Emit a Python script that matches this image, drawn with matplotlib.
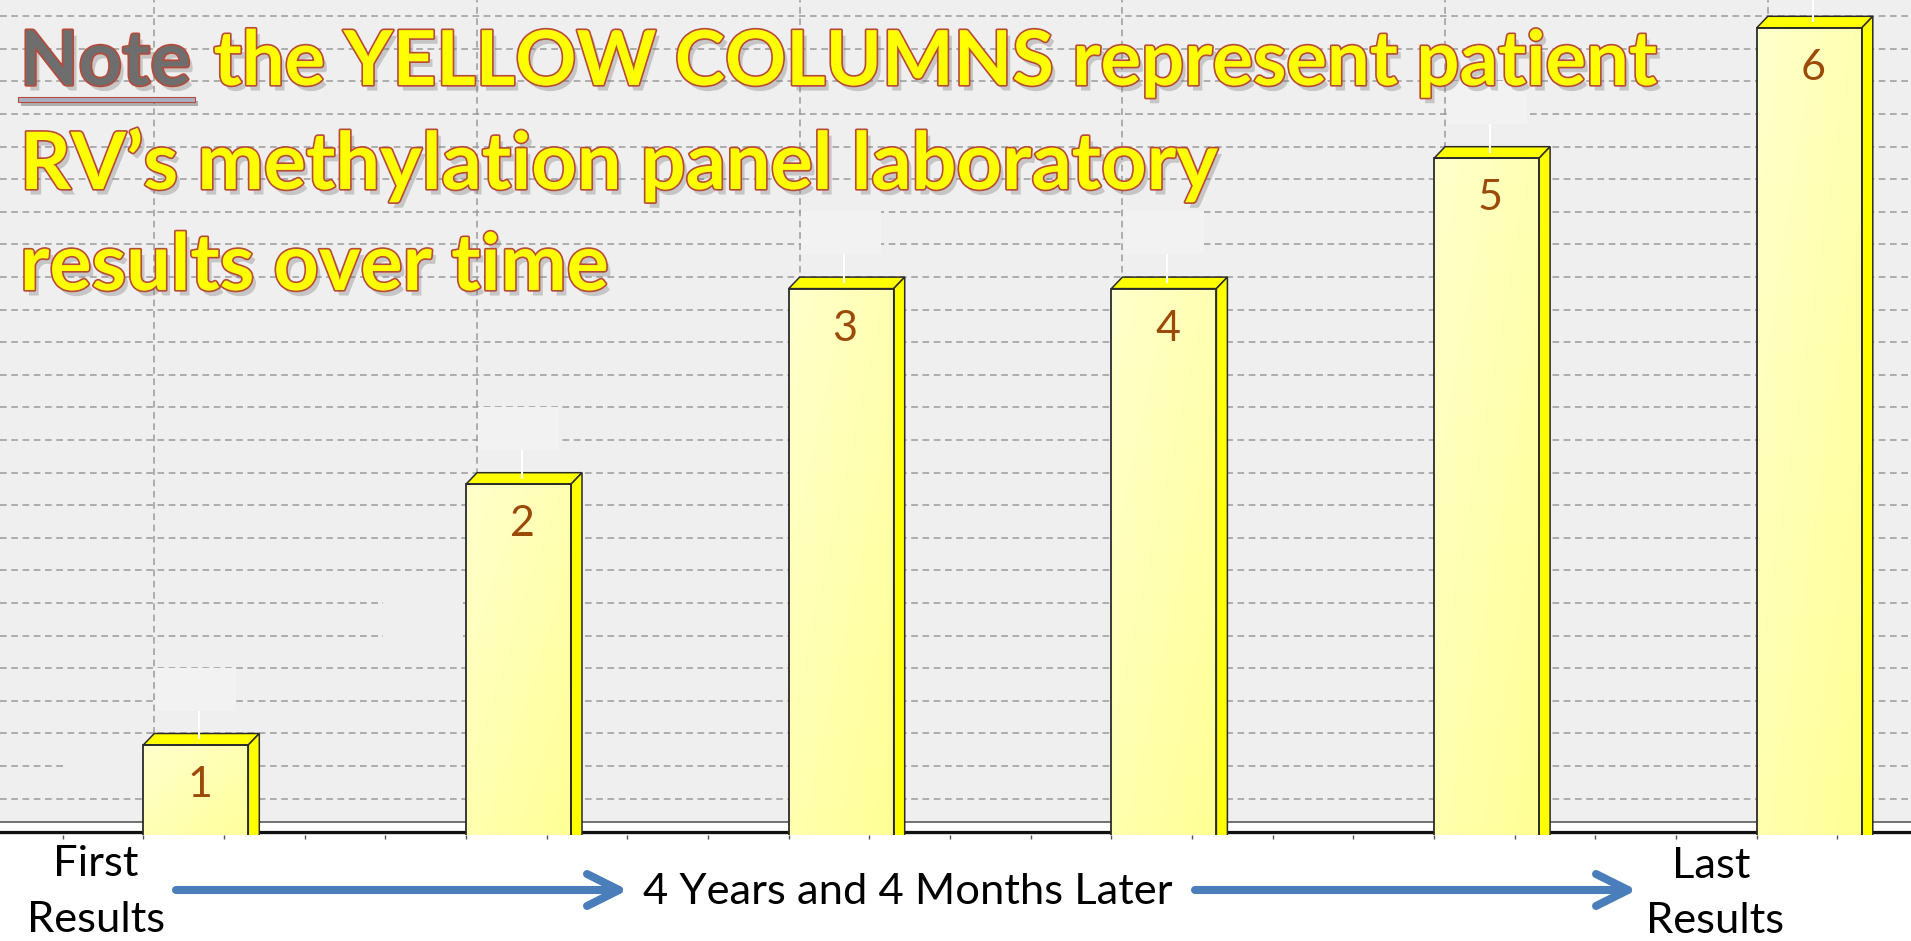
import numpy as np
import matplotlib
matplotlib.use("Agg")
import matplotlib.pyplot as plt
from matplotlib.patches import Rectangle, Polygon, FancyArrowPatch, ArrowStyle
import matplotlib.patheffects as pe

plt.rcParams["lines.scale_dashes"] = False

# ---------------- data ----------------
categories = ["1", "2", "3", "4", "5", "6"]
values = [3, 11, 17, 17, 21, 25]          # height in grid-line units
note_word = "Note"
title_line1_rest = "the YELLOW COLUMNS represent patient"
title_line2 = "RV\u2019s methylation panel laboratory"
title_line3 = "results over time"
start_label = ["First", "Results"]
end_label = ["Last", "Results"]
middle_label = "4 Years and 4 Months Later"

# ---------------- layout ----------------
W, H = 1911, 941
fig = plt.figure(figsize=(W / 100, H / 100), dpi=100)
fig.patch.set_facecolor("white")

ax_bottom_px = 835
ax = fig.add_axes([0, 1 - ax_bottom_px / H, 1, ax_bottom_px / H])
ax.set_facecolor("#efefef")
px_y = 32.6       # pixels per value unit
px_x = 322.7      # pixels per category
x0_px = 195.8
y0_px = 831.3
xlim = (-x0_px / px_x, (W - x0_px) / px_x)
ylim = (-(ax_bottom_px - y0_px) / px_y, y0_px / px_y)

bw = 105 / px_x          # bar width
dx = 11 / px_x           # depth offset x
dy = 11.5 / px_y         # depth offset y

dash = (0, (4.8, 3.3))
grid_c = "#9b9b9b"
for v in range(1, 27):
    ax.axhline(v, color=grid_c, lw=1.1, ls=dash, zorder=1)
for i in range(len(values)):
    ax.axvline(i - bw / 2 + dx, color=grid_c, lw=1.1, ls=dash, zorder=1)

# hidden (blank) label boxes that interrupt gridlines
ax.add_patch(Rectangle((-0.4115, 1.35), (-bw / 2) + 0.4115, 1.2, fc="#efefef", ec="none", zorder=1.4))
ax.add_patch(Rectangle((0.58, 5.5), 0.248, 2.0, fc="#efefef", ec="none", zorder=1.4))

# floor
ax.axhspan(-0.031, 0.294, color="white", zorder=2)
ax.axhline(0.294, color="#5a5a5a", lw=1.2, zorder=2.1)
ax.axhline(-0.031, color="#111111", lw=2.3, zorder=2.1)

light = np.array([1.0, 1.0, 0.80])
dark = np.array([1.0, 1.0, 0.58])
for i, (cat, v) in enumerate(zip(categories, values)):
    left, right = i - bw / 2, i + bw / 2
    bottom = ylim[0] - 1
    top = v - dy
    nx, ny = 24, 80
    u = np.linspace(0, 1, nx)[None, :]
    t = np.linspace(0, 1, ny)[:, None]
    tt = np.clip(0.45 * u + 0.55 * t, 0, 1)[..., None]
    img = light * (1 - tt) + dark * tt
    ax.imshow(img, extent=(left, right, bottom, top), origin="upper",
              aspect="auto", zorder=3, interpolation="bilinear")
    ax.add_patch(Rectangle((left, bottom), bw, top - bottom, fill=False,
                           ec="#2b2b2b", lw=1.3, zorder=3.3))
    ax.add_patch(Polygon([(left, top), (right, top), (right + dx, v), (left + dx, v)],
                         closed=True, fc="#ffff00", ec="#2b2b2b", lw=1.1, zorder=3.2))
    ax.add_patch(Polygon([(right, bottom), (right, top), (right + dx, v), (right + dx, bottom)],
                         closed=True, fc="#ffff00", ec="#2b2b2b", lw=1.1, zorder=3.2))
    # blank data label box + leader
    ax.add_patch(Rectangle((i - 0.124, v + 0.7), 0.248, 1.32, fc="#f2f2f2", ec="none", zorder=1.5))
    ax.plot([i + 0.01, i + 0.01], [v + 0.7, v - 0.18], color="white", lw=1.5, zorder=3.5,
            solid_capstyle="butt")
    ax.text(i + 0.012, top - 40 / px_y, cat, ha="center", va="center", fontsize=31,
            color="#9c4a0a", family="Lato", zorder=5)

ax.set_xlim(*xlim)
ax.set_ylim(*ylim)
ax.set_yticks([])
ticks = np.arange(-bw / 2 - 0.25, xlim[1], 0.25)
ax.set_xticks(ticks)
ax.tick_params(axis="x", length=3, width=1, color="#555555", labelbottom=False, direction="out")
for s in ax.spines.values():
    s.set_visible(False)

# ---------------- texts ----------------
renderer = fig.canvas.get_renderer()


def fx(px):
    return px / W


def fy(py):
    return 1 - py / H


def width_px(t):
    return t.get_window_extent(renderer).width


def fit_size(s, target, weight="normal"):
    p = fig.text(0, 0, s, fontsize=50, family="Lato", weight=weight)
    w = width_px(p)
    p.remove()
    return 50 * target / w


size1 = fit_size(note_word + " " + title_line1_rest, 1635, "bold")
size2 = fit_size(title_line2, 1200, "bold")
size3 = fit_size(title_line3, 590, "bold")

outline = "#b84a3a"
yel_fx = [pe.SimplePatchShadow(offset=(3, -4), shadow_rgbFace="#7a7a7a", alpha=0.35),
          pe.withStroke(linewidth=2.4, foreground=outline)]
tx0 = 20
note = fig.text(fx(tx0), fy(85), note_word, fontsize=size1, family="Lato", weight="bold",
                color="#6e6e6e", va="baseline", ha="left", zorder=10, path_effects=yel_fx)
ne = note.get_window_extent(renderer)
fig.patches.append(Rectangle((fx(18), fy(101.5)), (ne.x1 - ne.x0 + 6) / W, 5 / H,
                             transform=fig.transFigure, fc="#aab0c4", ec=outline, lw=0.8,
                             zorder=10, path_effects=[pe.SimplePatchShadow(offset=(2, -3), alpha=0.35), pe.Normal()]))
gap = 0.30 * size1 * 100 / 72
fig.text((ne.x1 + gap) / W, fy(85), title_line1_rest, fontsize=size1, family="Lato",
         weight="bold", color="#ffff00", va="baseline", ha="left", zorder=10, path_effects=yel_fx)
fig.text(fx(tx0), fy(189), title_line2, fontsize=size2, family="Lato", weight="bold",
         color="#ffff00", va="baseline", ha="left", zorder=10, path_effects=yel_fx)
fig.text(fx(tx0), fy(290), title_line3, fontsize=size3, family="Lato", weight="bold",
         color="#ffff00", va="baseline", ha="left", zorder=10, path_effects=yel_fx)

# bottom labels
bsize = fit_size(middle_label, 529)
fig.text(fx(907.5), fy(904), middle_label, fontsize=bsize, family="Lato", ha="center", va="baseline")
fig.text(fx(96), fy(876), start_label[0], fontsize=bsize, family="Lato", ha="center", va="baseline")
fig.text(fx(96), fy(932), start_label[1], fontsize=bsize, family="Lato", ha="center", va="baseline")
fig.text(fx(1711), fy(878), end_label[0], fontsize=bsize, family="Lato", ha="center", va="baseline")
fig.text(fx(1715), fy(933), end_label[1], fontsize=bsize, family="Lato", ha="center", va="baseline")

arrow_c = "#4a7ebb"
style = ArrowStyle("->", head_length=23, head_width=11.5)
for xa, xb in ((176, 628), (1195, 1637)):
    a = FancyArrowPatch((fx(xa), fy(890)), (fx(xb), fy(890)), transform=fig.transFigure,
                        arrowstyle=style, mutation_scale=1, color=arrow_c, lw=5.8,
                        shrinkA=0, shrinkB=0, capstyle="round", joinstyle="round")
    fig.patches.append(a)

fig.savefig("out.png", dpi=100, facecolor="white")
